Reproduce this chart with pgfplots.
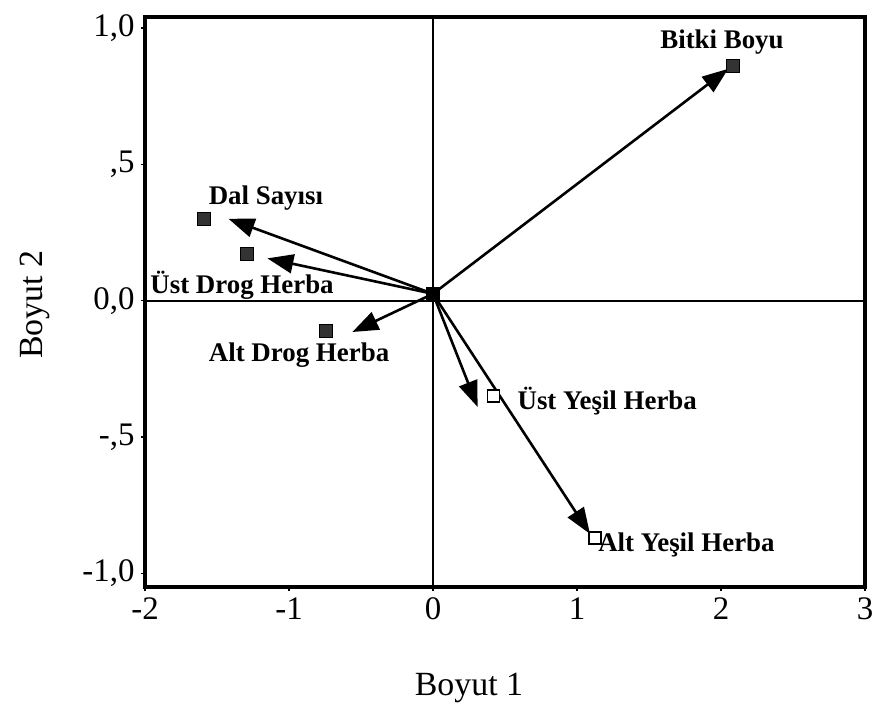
\documentclass[border=0pt]{standalone}
\usepackage{fontspec}
\setmainfont{Liberation Serif}
\usepackage{pgfplots}
\pgfplotsset{compat=1.18}
\usetikzlibrary{arrows.meta}
\begin{document}
\begin{tikzpicture}
\path[use as bounding box] (-145bp,-131bp) rectangle (729bp,587bp);
\pgfplotsset{arr/.style={line width=2.6bp, black, -{Triangle[length=26bp,width=19bp]}}}
\begin{axis}[
  at={(0,0)}, anchor=south west,
  scale only axis, width=720bp, height=570bp,
  xmin=-2, xmax=3, ymin=-1.05, ymax=1.04,
  axis line style={line width=3.5bp},
  xtick={-2,-1,0,1,2,3}, xticklabels={-2,-1,0,1,2,3},
  ytick={-1,-0.5,0,0.5,1}, yticklabels={{-1,0},{-,5},{0,0},{,5},{1,0}},
  tick align=outside, major tick length=4bp, tick style={line width=1.5bp, black},
  xtick pos=bottom, ytick pos=left,
  ticklabel style={font=\fontsize{33}{33}\selectfont},
  xticklabel style={yshift=-3bp},
  yticklabel style={xshift=-3bp},
  xlabel={Boyut 1}, ylabel={Boyut 2},
  label style={font=\fontsize{34}{34}\selectfont},
  xlabel style={at={(axis description cs:0.45,-0.177)}, anchor=center},
  ylabel style={at={(axis description cs:-0.153,0.495)}, anchor=center},
  clip=false,
]
\addplot[line width=1.8bp, black] coordinates {(-2,0) (3,0)};
\addplot[line width=1.8bp, black] coordinates {(0,-1.05) (0,1.04)};

\addplot[arr] coordinates {(0,0.025) (2.05,0.85)};
\addplot[arr] coordinates {(0,0.025) (-1.42,0.30)};
\addplot[arr] coordinates {(0,0.025) (-1.15,0.155)};
\addplot[arr] coordinates {(0,0.025) (-0.56,-0.115)};
\addplot[arr] coordinates {(0,0.025) (0.31,-0.39)};
\addplot[arr] coordinates {(0,0.025) (1.09,-0.855)};

\addplot[only marks, mark=square*, mark size=6.5bp, mark options={fill=black!80, draw=black, line width=1bp}]
  coordinates {(2.08,0.86) (-1.59,0.30) (-1.29,0.17) (-0.74,-0.11)};
\addplot[only marks, mark=square*, mark size=6.5bp, mark options={fill=black, draw=black}]
  coordinates {(0,0.025)};
\addplot[only marks, mark=square*, mark size=6bp, mark options={fill=white, draw=black, line width=1.2bp}]
  coordinates {(0.42,-0.35) (1.125,-0.87)};

\begin{scope}[every node/.style={font=\bfseries\fontsize{27}{27}\selectfont}]
\node at (axis cs:2.007,0.947) {Bitki Boyu};
\node at (axis cs:-1.16,0.377) {Dal Sayısı};
\node at (axis cs:-1.326,0.058) {Üst Drog Herba};
\node at (axis cs:-0.93,-0.20) {Alt Drog Herba};
\node at (axis cs:1.21,-0.37) {Üst Yeşil Herba};
\node at (axis cs:1.76,-0.896) {Alt Yeşil Herba};
\end{scope}
\end{axis}
\end{tikzpicture}
\end{document}
